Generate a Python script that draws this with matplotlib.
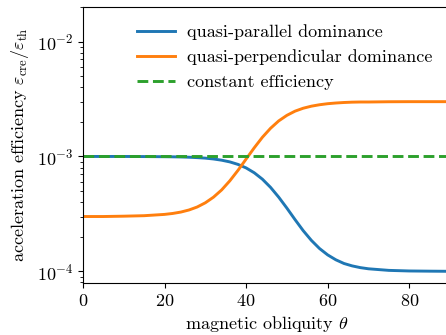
import matplotlib
matplotlib.use("Agg")
import matplotlib.pyplot as plt

plt.rcParams["font.family"] = "serif"
plt.rcParams["font.serif"] = ["cmr10", "DejaVu Serif"]
plt.rcParams["mathtext.fontset"] = "cm"
plt.rcParams["axes.formatter.use_mathtext"] = True
plt.rcParams["font.size"] = 13

# magnetic obliquity (degrees)
theta = [0, 5, 10, 15, 20, 22, 24, 26, 28, 30, 32, 34, 36, 38, 40, 42, 44, 46,
         48, 50, 52, 54, 56, 58, 60, 62, 64, 66, 68, 70, 75, 80, 85, 90]

# efficiency
quasi_par = [1.0e-3, 1.0e-3, 1.0e-3, 9.98e-4, 9.95e-4, 9.93e-4, 9.90e-4, 9.85e-4,
             9.77e-4, 9.67e-4, 9.51e-4, 9.28e-4, 8.97e-4, 8.53e-4, 7.95e-4, 7.21e-4,
             6.34e-4, 5.38e-4, 4.42e-4, 3.55e-4, 2.82e-4, 2.26e-4, 1.86e-4, 1.58e-4,
             1.39e-4, 1.26e-4, 1.17e-4, 1.115e-4, 1.077e-4, 1.052e-4, 1.019e-4,
             1.007e-4, 1.003e-4, 1.0e-4]
quasi_perp = [3.0e-4, 3.0e-4, 3.02e-4, 3.05e-4, 3.13e-4, 3.19e-4, 3.28e-4, 3.42e-4,
              3.63e-4, 3.95e-4, 4.42e-4, 5.11e-4, 6.13e-4, 7.56e-4, 9.49e-4, 1.19e-3,
              1.47e-3, 1.76e-3, 2.04e-3, 2.28e-3, 2.48e-3, 2.63e-3, 2.74e-3, 2.82e-3,
              2.88e-3, 2.92e-3, 2.95e-3, 2.97e-3, 2.98e-3, 2.98e-3, 2.995e-3,
              3.0e-3, 3.0e-3, 3.0e-3]
const_eff = [1.0e-3] * len(theta)

fig = plt.figure(figsize=(4.46, 3.35), dpi=100)
ax = fig.add_axes([0.186, 0.155, 0.823, 0.824])

ax.plot(theta, quasi_par, color="#1f77b4", lw=2.1, label="quasi-parallel dominance")
ax.plot(theta, quasi_perp, color="#ff7f0e", lw=2.1, label="quasi-perpendicular dominance")
ax.plot(theta, const_eff, color="#2ca02c", lw=2.1, ls="--", label="constant efficiency")

ax.set_yscale("log")
ax.set_xlim(0, 90)
ax.set_ylim(7.9e-5, 2.0e-2)
ax.set_xticks([0, 20, 40, 60, 80])
ax.set_xlabel(r"magnetic obliquity $\theta$", labelpad=4)
ax.set_ylabel(r"acceleration efficiency $\varepsilon_\mathrm{cre}/\varepsilon_\mathrm{th}$")

ax.legend(loc="upper right", bbox_to_anchor=(0.997, 0.995), frameon=False,
          labelspacing=0.5, handlelength=2.1, handletextpad=0.7)

fig.savefig("out.png", dpi=100)
